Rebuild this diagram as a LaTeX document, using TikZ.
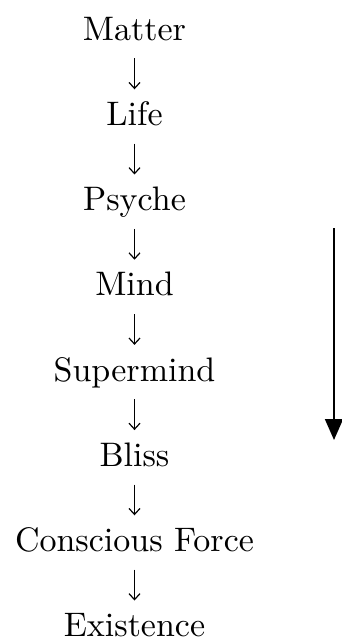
\documentclass[tikz,border=0pt]{standalone}
\usepackage{fontspec}
\newfontfamily\wordfont{lmroman10-regular.otf}
\usetikzlibrary{arrows.meta}
\begin{document}
\begin{tikzpicture}[x=1pt,y=-1pt,
  word/.style={inner sep=0pt,text height=23pt,text depth=0pt,anchor=south,font=\wordfont\fontsize{34}{40}\selectfont},
  smallarrow/.style={line width=1.2pt,-{Straight Barb[length=6pt,width=11pt,line width=1.2pt]},shorten <=18pt,shorten >=13pt},
  bigarrow/.style={line width=1.8pt,-{Triangle[length=21pt,width=18pt]}}]
\useasboundingbox (0,0) rectangle (341,642);
\node[word] (n1) at (134.5,40.5) {Matter};
\node[word] (n2) at (134.5,125.7) {Life};
\node[word] (n3) at (134.5,210.9) {Psyche};
\node[word] (n4) at (134.5,296.1) {Mind};
\node[word] (n5) at (134.5,381.3) {Supermind};
\node[word] (n6) at (134.5,466.5) {Bliss};
\node[word] (n7) at (134.5,551.7) {Conscious Force};
\node[word] (n8) at (134.5,636.9) {Existence};
\foreach \a/\b in {n1/n2,n2/n3,n3/n4,n4/n5,n5/n6,n6/n7,n7/n8}
  \draw[smallarrow] (\a.south) -- (\b.north);
\coordinate (btop) at (334,228);
\coordinate (bbot) at (334,440);
\draw[bigarrow] (btop) -- (bbot);
\end{tikzpicture}
\end{document}
